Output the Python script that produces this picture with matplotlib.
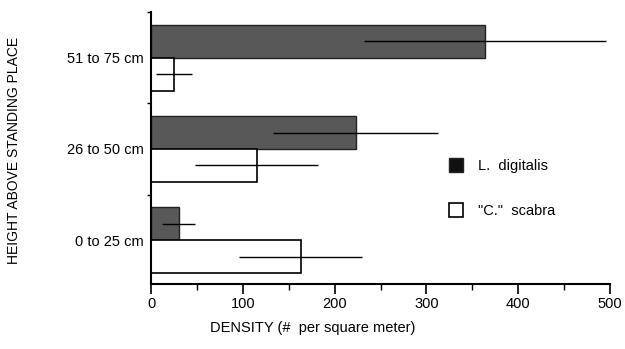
import matplotlib.pyplot as plt
import numpy as np

# Density (# per square meter) by height class
heights = ["0 to 25 cm", "26 to 50 cm", "51 to 75 cm"]
digitalis_mean = [30, 223, 364]
digitalis_err = [18, 90, 132]
scabra_mean = [163, 115, 25]
scabra_err = [67, 67, 20]

plt.rcParams["font.family"] = ["Liberation Sans", "DejaVu Sans"]

fig = plt.figure(figsize=(6.25, 3.49), dpi=100)
ax = fig.add_axes([0.2416, 0.186, 0.7344, 0.7796])

pos = np.arange(len(heights))
h = 0.36

ax.barh(pos + h / 2, digitalis_mean, height=h, color="#585858", edgecolor="#222222",
        linewidth=1, label="L.  digitalis")
ax.barh(pos - h / 2, scabra_mean, height=h, color="white", edgecolor="black",
        linewidth=1.2, label='"C."  scabra')
ax.errorbar(digitalis_mean, pos + h / 2, xerr=digitalis_err, fmt="none",
            ecolor="black", elinewidth=1, capsize=0)
ax.errorbar(scabra_mean, pos - h / 2, xerr=scabra_err, fmt="none",
            ecolor="black", elinewidth=1, capsize=0)

ax.set_xlim(0, 500)
ax.set_ylim(-0.48, 2.49)

ax.set_xticks(np.arange(0, 501, 100))
ax.set_xticks(np.arange(50, 500, 100), minor=True)
ax.set_yticks(pos)
ax.set_yticklabels(heights)
ax.set_yticks([0.5, 1.5, 2.5], minor=True)

ax.tick_params(axis="x", which="major", length=7, width=1.2, labelsize=10.5, pad=2)
ax.tick_params(axis="x", which="minor", length=4, width=1)
ax.tick_params(axis="y", which="major", length=0, labelsize=10.5, pad=5)
ax.tick_params(axis="y", which="minor", length=3, width=1)

for s in ["top", "right"]:
    ax.spines[s].set_visible(False)
for s in ["left", "bottom"]:
    ax.spines[s].set_linewidth(1.5)

ax.set_xlabel("DENSITY (#  per square meter)", fontsize=10.5)
ax.xaxis.set_label_coords(0.353, -0.136)
ax.set_ylabel("HEIGHT ABOVE STANDING PLACE", fontsize=10)
ax.yaxis.set_label_coords(-0.284, 0.49)

leg = ax.legend(loc="upper left", bbox_to_anchor=(0.62, 0.51), frameon=False,
                fontsize=10.5, handlelength=1.0, handleheight=1.1,
                labelspacing=2.0, handletextpad=1.0)
leg.legend_handles[0].set_facecolor("#111111")

fig.savefig("out.png", dpi=100)
